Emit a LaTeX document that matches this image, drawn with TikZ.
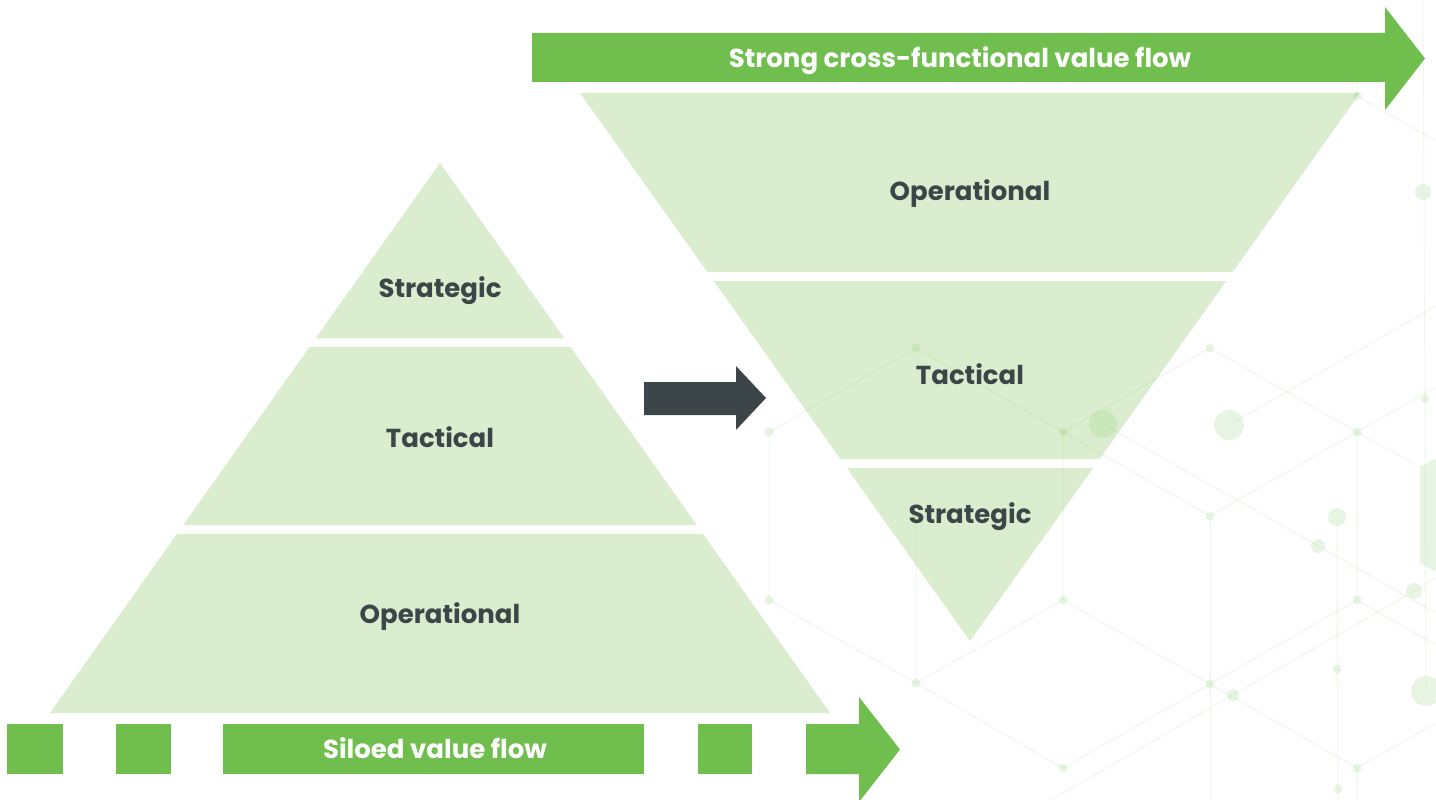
\documentclass[tikz,border=0pt]{standalone}
\usepackage{fontspec}
\setmainfont{Poppins}
\definecolor{flowgreen}{HTML}{70BF4E}
\definecolor{bandgreen}{HTML}{DAEDCF}
\definecolor{slate}{HTML}{3C4547}
\tikzset{
  band/.style={fill=bandgreen, draw=none},
  flow/.style={fill=flowgreen, draw=none},
  pointer/.style={fill=slate, draw=none},
  tier/.style={text=slate, font=\bfseries\fontsize{26}{30}\selectfont, anchor=base, inner sep=0pt},
  flowlabel/.style={text=white, font=\bfseries\fontsize{26}{30}\selectfont, anchor=base, inner sep=0pt},
  mesh/.style={draw=flowgreen, draw opacity=0.11, line width=1pt},
  dot/.style={fill=flowgreen, fill opacity=0.15, draw=none},
}
\begin{document}
\begin{tikzpicture}[x=1pt,y=-1pt]
  % page frame
  \fill[white] (0,0) rectangle (1436,800);
  \useasboundingbox (0,0) rectangle (1436,800);
  \clip (0,0) rectangle (1436,800);

  % upright pyramid
  \path[band] (440,163) -- (564.1,338) -- (315.9,338) -- cycle;
  \path[band] (309.5,347) -- (570.5,347) -- (696.7,525) -- (183.3,525) -- cycle;
  \path[band] (176.9,534) -- (703.1,534) -- (830,713) -- (50,713) -- cycle;

  % inverted pyramid
  \path[band] (580,93) -- (1360,93) -- (1232.6,272) -- (707.4,272) -- cycle;
  \path[band] (713.8,281) -- (1226.2,281) -- (1099.5,459) -- (840.5,459) -- cycle;
  \path[band] (846.9,468) -- (1093.1,468) -- (970,641) -- cycle;

  % faint network in the background
  \draw[mesh] (769,600) -- (769,432) -- (916,348) -- (1063,432) -- (1063,600);
  \draw[mesh] (1063,432) -- (1210,348) -- (1357,432);
  \draw[mesh] (1063,432) -- (1210,516) -- (1357,432);
  \draw[mesh] (1210,516) -- (1210,800);
  \draw[mesh] (769,600) -- (916,683) -- (1063,600) -- (1210,684);
  \draw[mesh] (916,516) -- (916,683) -- (1063,768) -- (1210,684);
  \draw[mesh] (1357,432) -- (1357,600) -- (1210,684) -- (1357,768) -- (1436,723);
  \draw[mesh] (1357,600) -- (1436,645);
  \draw[mesh] (1357,768) -- (1357,800);
  \draw[mesh] (1337,517) -- (1338,800);
  \draw[mesh] (1423,0) -- (1425,399) -- (1426,691);
  \draw[mesh] (1357,432) -- (1436,387);
  \draw[mesh] (1357,432) -- (1420,467);
  \draw[mesh] (1357,80) -- (1357,96) -- (1436,141);
  \draw[mesh] (1229,425) -- (1436,306);
  \draw[mesh] (1103,424) -- (1318,546) -- (1436,613);
  \draw[mesh] (1051,800) -- (1233,695) -- (1414,591) -- (1436,578);
  \path[dot] (1420,467) -- (1436,458) -- (1450,466) -- (1450,565) -- (1436,572) -- (1420,563) -- cycle;
  \foreach \p in {(916,348),(769,432),(1063,432),(1210,348),(1357,432),(1425,399),
                  (769,600),(1063,600),(1357,600),(916,683),(1210,684),(1063,768),
                  (1357,768),(1210,516),(916,516),(1357,96),(1338,789),(1337,669)}
    \fill[dot] \p circle (4.5);
  \fill[dot] (1318,546) circle (7);
  \fill[dot] (1414,591) circle (8);
  \fill[dot] (1233,695) circle (6);
  \fill[dot] (1423,192) circle (8);
  \fill[dot] (1229,425) circle (15);
  \fill[dot] (1103,424) circle (14);
  \fill[dot] (1337,517) circle (9);
  \fill[dot] (1426,691) circle (15);

  % cross-functional flow arrow
  \path[flow] (532,33) -- (1385,33) -- (1385,7) -- (1425,58.5) -- (1385,110)
              -- (1385,82) -- (532,82) -- cycle;

  % siloed flow, broken into pieces
  \path[flow] (7,724) rectangle (63,774);
  \path[flow] (116,724) rectangle (171,774);
  \path[flow] (223,724) rectangle (644,774);
  \path[flow] (698,724) rectangle (752,774);
  \path[flow] (806,724) -- (859,724) -- (859,697) -- (900,749.5) -- (859,802)
              -- (859,774) -- (806,774) -- cycle;

  % transition arrow
  \path[pointer] (644,382) -- (736,382) -- (736,366) -- (766,398) -- (736,430)
                 -- (736,415) -- (644,415) -- cycle;

  % labels
  \node[tier] (lstrat) at (440,297) {Strategic};
  \node[tier] (ltact)  at (440,447) {Tactical};
  \node[tier] (loper)  at (440,623) {Operational};
  \node[tier] (roper)  at (970,200) {Operational};
  \node[tier] (rtact)  at (970,384) {Tactical};
  \node[tier] (rstrat) at (970,523) {Strategic};
  \node[flowlabel] (strong) at (960,67) {Strong cross-functional value flow};
  \node[flowlabel] (siloed) at (435,758) {Siloed value flow};
\end{tikzpicture}
\end{document}
